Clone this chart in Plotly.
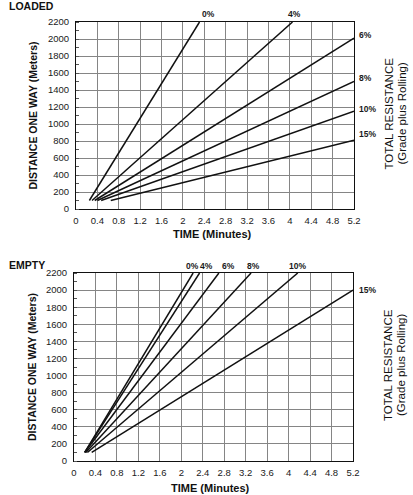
import plotly.graph_objects as go

# ---------------- data ----------------
grades = ["0%", "4%", "6%", "8%", "10%", "15%"]

loaded_start_time = [0.25, 0.30, 0.35, 0.40, 0.47, 0.65]
loaded_start_dist = [100, 100, 100, 100, 100, 100]
loaded_end_time = [2.31, 4.05, 5.2, 5.2, 5.2, 5.2]
loaded_end_dist = [2200, 2200, 2010, 1500, 1150, 810]

empty_start_time = [0.20, 0.20, 0.20, 0.22, 0.25, 0.33]
empty_start_dist = [100, 100, 100, 100, 100, 100]
empty_end_time = [2.22, 2.34, 2.70, 3.30, 4.17, 5.2]
empty_end_dist = [2200, 2200, 2200, 2200, 2200, 2000]

x_ticks = [0, 0.4, 0.8, 1.2, 1.6, 2, 2.4, 2.8, 3.2, 3.6, 4, 4.4, 4.8, 5.2]
x_tick_labels = ["0", "0.4", "0.8", "1.2", "1.6", "2", "2.4", "2.8", "3.2", "3.6", "4", "4.4", "4.8", "5.2"]
y_ticks = list(range(0, 2201, 200))
y_tick_labels = [str(v) for v in y_ticks]

panel_titles = ["LOADED", "EMPTY"]
x_title = "TIME (Minutes)"
y_title = "DISTANCE ONE WAY (Meters)"
right_title_1 = "TOTAL RESISTANCE"
right_title_2 = "(Grade plus Rolling)"

# ---------------- layout helpers ----------------
W, H = 413, 495
FONT = "Liberation Sans, Arial, sans-serif"


def px_x(p):
    return p / W


def px_y(p):
    return 1 - p / H


top_box = dict(x0=76, x1=354, y0=22, y1=209)
bot_box = dict(x0=74, x1=353, y0=273, y1=461)

fig = go.Figure()

panels = [
    ("x", "y", top_box, loaded_start_time, loaded_start_dist, loaded_end_time, loaded_end_dist,
     # label style: (xanchor, yanchor, xshift, yshift)
     [("left", "bottom", 0, 1), ("center", "bottom", 2, 1), ("left", "middle", 3, 3),
      ("left", "middle", 3, 3), ("left", "middle", 3, 2), ("left", "middle", 3, 6)]),
    ("x2", "y2", bot_box, empty_start_time, empty_start_dist, empty_end_time, empty_end_dist,
     [("center", "bottom", -1, 0), ("center", "bottom", 7, 0), ("center", "bottom", 10, 0),
      ("center", "bottom", 2, 0), ("center", "bottom", 0, 0), ("left", "middle", 4, 0)]),
]

annotations = []
for xa, ya, box, st, sd, et, ed, lab in panels:
    for g, t0, d0, t1, d1, (xan, yan, dx, dy) in zip(grades, st, sd, et, ed, lab):
        fig.add_trace(go.Scatter(
            x=[t0, t1], y=[d0, d1], mode="lines", xaxis=xa, yaxis=ya,
            line=dict(color="#111111", width=1.5), showlegend=False, hoverinfo="skip",
            cliponaxis=False,
        ))
        annotations.append(dict(
            x=t1, y=d1, xref=xa, yref=ya, text="<b>" + g + "</b>", showarrow=False,
            xanchor=xan, yanchor=yan, xshift=dx, yshift=dy,
            font=dict(family=FONT, size=8.5, color="#1a1a1a"),
        ))

axis_common = dict(
    showline=True, linecolor="#111111", linewidth=1, mirror=True,
    showgrid=True, gridcolor="#858585", gridwidth=1, zeroline=False,
    ticks="", tickfont=dict(family=FONT, size=9.5, color="#1a1a1a"),
    automargin=False, fixedrange=True,
)

fig.update_layout(
    width=W, height=H,
    margin=dict(l=0, r=0, t=0, b=0),
    paper_bgcolor="white", plot_bgcolor="white",
    showlegend=False,
    xaxis=dict(axis_common, domain=[px_x(top_box["x0"]), px_x(top_box["x1"])], anchor="y",
               range=[0, 5.2], tickvals=x_ticks, ticktext=x_tick_labels, ticklabelstandoff=3),
    yaxis=dict(axis_common, domain=[px_y(top_box["y1"]), px_y(top_box["y0"])], anchor="x",
               range=[0, 2200], tickvals=y_ticks, ticktext=y_tick_labels, ticklabelstandoff=4,
               minor=dict(ticks="inside", ticklen=3, tickcolor="#555555", dtick=100, showgrid=False)),
    xaxis2=dict(axis_common, domain=[px_x(bot_box["x0"]), px_x(bot_box["x1"])], anchor="y2",
                range=[0, 5.2], tickvals=x_ticks, ticktext=x_tick_labels, ticklabelstandoff=3),
    yaxis2=dict(axis_common, domain=[px_y(bot_box["y1"]), px_y(bot_box["y0"])], anchor="x2",
                range=[0, 2200], tickvals=y_ticks, ticktext=y_tick_labels, ticklabelstandoff=4,
                minor=dict(ticks="inside", ticklen=3, tickcolor="#555555", dtick=100, showgrid=False)),
)

for title, box, ty in [(panel_titles[0], top_box, 6), (panel_titles[1], bot_box, 265)]:
    annotations.append(dict(
        x=px_x(7), y=px_y(ty), xref="paper", yref="paper", text="<b>" + title + "</b>",
        showarrow=False, xanchor="left", yanchor="middle",
        font=dict(family=FONT, size=10.5, color="#111111"),
    ))

for box, tx_y in [(top_box, 234), (bot_box, 488)]:
    cy = (box["y0"] + box["y1"]) / 2
    cx = (box["x0"] + box["x1"]) / 2
    annotations.append(dict(
        x=px_x(cx - 3), y=px_y(tx_y), xref="paper", yref="paper", text="<b>" + x_title + "</b>",
        showarrow=False, xanchor="center", yanchor="middle",
        font=dict(family=FONT, size=11, color="#111111"),
    ))
    annotations.append(dict(
        x=px_x(32), y=px_y(cy), xref="paper", yref="paper", text="<b>" + y_title + "</b>",
        showarrow=False, xanchor="center", yanchor="middle", textangle=-90,
        font=dict(family=FONT, size=10.5, color="#111111"),
    ))
    annotations.append(dict(
        x=px_x(388), y=px_y(cy - 2), xref="paper", yref="paper", text=right_title_1,
        showarrow=False, xanchor="center", yanchor="middle", textangle=-90,
        font=dict(family=FONT, size=11.5, color="#111111"),
    ))
    annotations.append(dict(
        x=px_x(401), y=px_y(cy - 2), xref="paper", yref="paper", text=right_title_2,
        showarrow=False, xanchor="center", yanchor="middle", textangle=-90,
        font=dict(family=FONT, size=11.5, color="#111111"),
    ))

fig.update_layout(annotations=annotations)
fig.write_html(
    "out.html",
    config={"displayModeBar": False},
    post_script="document.body.style.margin='0';document.body.style.overflow='hidden';",
)
